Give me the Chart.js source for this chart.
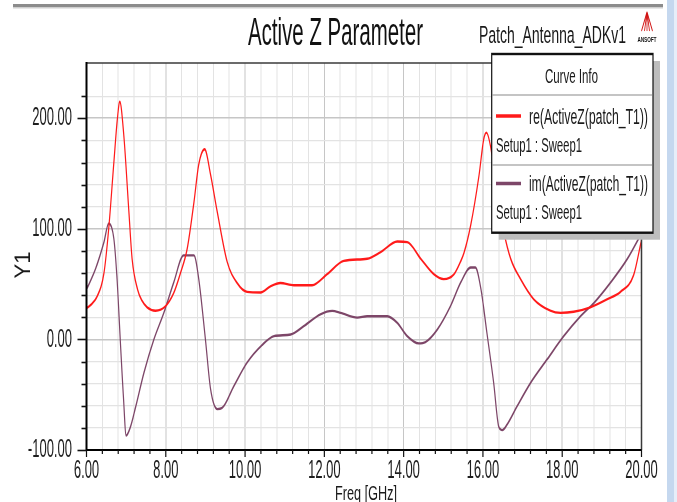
<!DOCTYPE html>
<html><head><meta charset="utf-8">
<script src="https://cdn.jsdelivr.net/npm/chart.js@4/dist/chart.umd.min.js"></script>
<style>
html,body{margin:0;padding:0;background:#fff;overflow:hidden}
</style>
</head><body>
<canvas id="c" width="1354" height="502" style="display:block;width:677px;height:502px"></canvas>
<script>
// ---- data ----
const reFreq  = [6.00,6.10,6.27,6.44,6.56,6.69,6.78,6.84,6.94,7.07,7.15,7.29,7.40,7.53,7.74,7.99,8.20,8.37,8.54,8.71,8.83,8.98,9.13,9.30,9.55,9.80,10.05,10.39,10.64,10.89,11.23,11.69,12.07,12.49,13.08,13.42,13.84,14.09,14.43,14.76,15.01,15.27,15.43,15.52,15.69,15.90,16.02,16.09,16.19,16.35,16.53,16.70,16.95,17.28,17.70,17.96,18.29,18.71,19.14,19.47,19.80,20.00];
const reValue = [28,31,39,60,100,160,200,215,185,115,73,45,35,29,26,30,42,60,82,124,158,172,149,115,70,51,43,42.5,48,51,49,49,59,71,73,79,88.5,88,73,59,54.5,59,70,78,103,148,181,187,175,135,97,73,54.5,36.4,26,24,25,29,36.4,43,58,90];
const imFreq  = [6.00,6.23,6.44,6.56,6.69,6.77,6.86,6.93,7.00,7.11,7.24,7.45,7.70,7.95,8.20,8.45,8.71,8.83,9.00,9.13,9.30,9.42,9.72,10.05,10.43,10.73,11.15,11.48,11.90,12.20,12.41,12.83,13.08,13.59,13.84,14.09,14.38,14.55,14.85,15.18,15.44,15.69,15.81,15.95,16.10,16.27,16.40,16.49,16.61,16.86,17.20,17.62,18.04,18.46,18.80,19.22,19.64,20.00];
const imValue = [45,64,88,105,91,55,-6,-51,-87,-79,-61,-30,0,24,51.5,76,76,55,0,-45,-63,-62,-42,-21,-5,3,4.5,12,22.7,25.8,24,19.7,21,21,15,3,-3.6,-2.4,9,30,51.5,65,65,45.5,6,-39,-79,-82,-77,-60.6,-39.4,-18,3,21,33,51.5,72.7,96];
const xTickLabels = ['6.00','8.00','10.00','12.00','14.00','16.00','18.00','20.00'];
const yTickLabels = ['-100.00','0.00','100.00','200.00'];
const seriesNames = ['re(ActiveZ(patch_T1))','im(ActiveZ(patch_T1))'];
const sweepName = 'Setup1 : Sweep1';
const chartTitle = 'Active Z Parameter';
const projectName = 'Patch_Antenna_ADKv1';
const xTitle = 'Freq [GHz]';
const yTitle = 'Y1';
const legendTitle = 'Curve Info';

// ---- rendering ----
const SX = 0.5;               // canvas is drawn wide and shown condensed
const X = v => v / SX;        // screen x -> canvas x
const FONT = '"Liberation Sans", Arial, sans-serif';
const RED = '#ff1a1a';
const PURPLE = '#7d4668';

function drawText(ctx, text, x, base, cap, width, align, color, weight) {
  const F = cap / 0.716;
  ctx.save();
  ctx.font = (weight || '') + ' ' + F + 'px ' + FONT;
  const w = ctx.measureText(text).width;
  const sx = width ? X(width) / w : 1;
  const wc = w * sx;
  let x0 = X(x);
  if (align === 'center') x0 -= wc / 2; else if (align === 'right') x0 -= wc;
  ctx.fillStyle = color || '#1a1a1a';
  ctx.textAlign = 'left';
  ctx.textBaseline = 'alphabetic';
  ctx.translate(x0, base);
  ctx.scale(sx, 1);
  ctx.fillText(text, 0, 0);
  ctx.restore();
}

const isLabelled = (v, labels) => labels.includes(Number(v).toFixed(2));

const decor = {
  id: 'decor',
  beforeDraw(chart) {
    const ctx = chart.ctx;
    ctx.save();
    ctx.fillStyle = '#ffffff';
    ctx.fillRect(0, 0, chart.width, chart.height);
    ctx.fillStyle = '#8c8c8c';
    ctx.fillRect(X(13), 4, X(663) - X(13), 3);
    ctx.fillStyle = '#cfcfcf';
    ctx.fillRect(X(13), 7, X(663) - X(13), 1.5);
    ctx.fillStyle = '#c5d8ef';
    ctx.fillRect(X(667), 0, X(674) - X(667), chart.height);
    ctx.fillStyle = '#e6eef9';
    ctx.fillRect(X(674), 0, X(677) - X(674), chart.height);
    ctx.restore();
  },
  afterDatasetsDraw(chart) {
    const ctx = chart.ctx;
    const {left, right, top, bottom} = chart.chartArea;
    const xs = chart.scales.x, ys = chart.scales.y;
    ctx.save();
    ctx.strokeStyle = '#3a3a3a';
    ctx.lineWidth = 1.5;
    ctx.beginPath();
    ctx.moveTo(left, top); ctx.lineTo(right, top);
    ctx.stroke();
    ctx.lineWidth = 3;
    ctx.beginPath();
    ctx.moveTo(right, top); ctx.lineTo(right, bottom);
    ctx.stroke();
    ctx.strokeStyle = '#000';
    ctx.lineWidth = 4;
    ctx.beginPath();
    ctx.moveTo(left, top - 1); ctx.lineTo(left, bottom + 1);
    ctx.stroke();
    ctx.lineWidth = 2;
    ctx.beginPath();
    ctx.moveTo(left, bottom); ctx.lineTo(right, bottom);
    ctx.stroke();
    ctx.strokeStyle = '#111';
    ctx.lineWidth = 1.6;
    ys.ticks.forEach(t => {
      const py = Math.round(ys.getPixelForValue(t.value)) + 0.5;
      const len = isLabelled(t.value, yTickLabels) ? X(9) : X(5);
      ctx.beginPath(); ctx.moveTo(left - len, py); ctx.lineTo(left, py); ctx.stroke();
    });
    ctx.lineWidth = 2.4;
    xs.ticks.forEach(t => {
      const px = xs.getPixelForValue(t.value);
      const len = isLabelled(t.value, xTickLabels) ? 7 : 4;
      ctx.beginPath(); ctx.moveTo(px, bottom); ctx.lineTo(px, bottom + len); ctx.stroke();
    });
    ctx.restore();
  },
  afterDraw(chart) {
    const ctx = chart.ctx;
    ctx.save();
    drawText(ctx, chartTitle, 248, 45, 28, 175, 'left', '#111');
    drawText(ctx, projectName, 479, 43, 17.5, 147, 'left', '#1a1a1a');
    drawText(ctx, xTitle, 335, 499.5, 15, 62, 'left', '#1a1a1a');
    ctx.save();
    ctx.translate(X(24), 265);
    ctx.scale(1 / SX, 1);
    ctx.rotate(-Math.PI / 2);
    ctx.font = '22px ' + FONT;
    ctx.fillStyle = '#1a1a1a';
    ctx.textAlign = 'center';
    ctx.textBaseline = 'middle';
    ctx.fillText(yTitle, 0, 0);
    ctx.restore();
    ctx.save();
    ctx.strokeStyle = '#d01010';
    ctx.lineWidth = 1.6;
    const apx = X(647), apy = 12;
    [641.5, 644.5, 647, 649.5, 652.5].forEach(bx => {
      ctx.beginPath(); ctx.moveTo(apx, apy); ctx.lineTo(X(bx), 31); ctx.stroke();
    });
    ctx.restore();
    drawText(ctx, 'ANSOFT', 647, 42, 5, 19, 'center', '#111', 'bold');

    const L = X(491.7), R = X(653), T = 54, B = 232.7;
    ctx.fillStyle = '#bdbdbd';
    ctx.fillRect(L + X(7), T + 7, R - L, B - T);
    ctx.fillStyle = '#ffffff';
    ctx.fillRect(L, T, R - L, B - T);
    ctx.strokeStyle = '#111';
    ctx.lineWidth = 2.4;
    ctx.strokeRect(L, T, R - L, B - T);
    ctx.strokeStyle = '#c4c4c4';
    ctx.lineWidth = 2;
    [95, 165].forEach(y => { ctx.beginPath(); ctx.moveTo(L + 2, y); ctx.lineTo(R - 2, y); ctx.stroke(); });
    drawText(ctx, legendTitle, 571.5, 82.5, 15, 53, 'center', '#1a1a1a');
    const rows = [
      {name: seriesNames[0], color: RED, y: 116, base: 123.5, sbase: 152},
      {name: seriesNames[1], color: PURPLE, y: 183.5, base: 191, sbase: 219}
    ];
    rows.forEach(r => {
      ctx.strokeStyle = r.color;
      ctx.lineWidth = 3.5;
      ctx.beginPath(); ctx.moveTo(X(496), r.y); ctx.lineTo(X(521), r.y); ctx.stroke();
      drawText(ctx, r.name, 529, r.base, 15.5, 119, 'left', '#1a1a1a');
      drawText(ctx, sweepName, 496, r.sbase, 15, 86, 'left', '#1a1a1a');
    });
    ctx.restore();
  }
};

const majorGrid = '#c6c6c6', minorGrid = '#e3e3e3';

new Chart(document.getElementById('c'), {
  type: 'line',
  data: {
    datasets: [
      {label: seriesNames[0], data: reFreq.map((f, i) => ({x: f, y: reValue[i]})),
       borderColor: RED, borderWidth: 2.4, pointRadius: 0, cubicInterpolationMode: 'monotone', fill: false},
      {label: seriesNames[1], data: imFreq.map((f, i) => ({x: f, y: imValue[i]})),
       borderColor: PURPLE, borderWidth: 2.4, pointRadius: 0, cubicInterpolationMode: 'monotone', fill: false}
    ]
  },
  options: {
    responsive: false,
    devicePixelRatio: 1,
    animation: false,
    layout: {padding: {left: 0, right: 71, top: 63, bottom: 12}},
    plugins: {legend: {display: false}, tooltip: {enabled: false}, title: {display: false}},
    scales: {
      x: {
        type: 'linear', min: 6, max: 20,
        afterFit: s => { s.height = 40; },
        border: {display: false},
        grid: {
          drawTicks: false,
          lineWidth: 2,
          color: c => (c.tick && isLabelled(c.tick.value, xTickLabels)) ? majorGrid : minorGrid
        },
        ticks: {
          stepSize: 0.4, autoSkip: false, maxRotation: 0, minRotation: 0, padding: 5,
          color: '#1e1e1e', font: {family: FONT, size: 26},
          callback: v => isLabelled(v, xTickLabels) ? Number(v).toFixed(2) : ''
        }
      },
      y: {
        type: 'linear', min: -100, max: 250,
        afterFit: s => { s.width = 173; },
        afterBuildTicks: s => {
          s.ticks = s.ticks.filter(t => { const k = (t.value + 100) / 20; return Math.abs(k - Math.round(k)) < 1e-6; });
        },
        border: {display: false},
        grid: {
          drawTicks: false,
          lineWidth: c => (c.tick && isLabelled(c.tick.value, yTickLabels)) ? 1.6 : 1.2,
          color: c => (c.tick && isLabelled(c.tick.value, yTickLabels)) ? majorGrid : minorGrid
        },
        ticks: {
          stepSize: 20, autoSkip: false, padding: 29,
          color: '#1e1e1e', font: {family: FONT, size: 26},
          callback: v => isLabelled(v, yTickLabels) ? Number(v).toFixed(2) : ''
        }
      }
    }
  },
  plugins: [decor]
});
</script>
</body></html>
